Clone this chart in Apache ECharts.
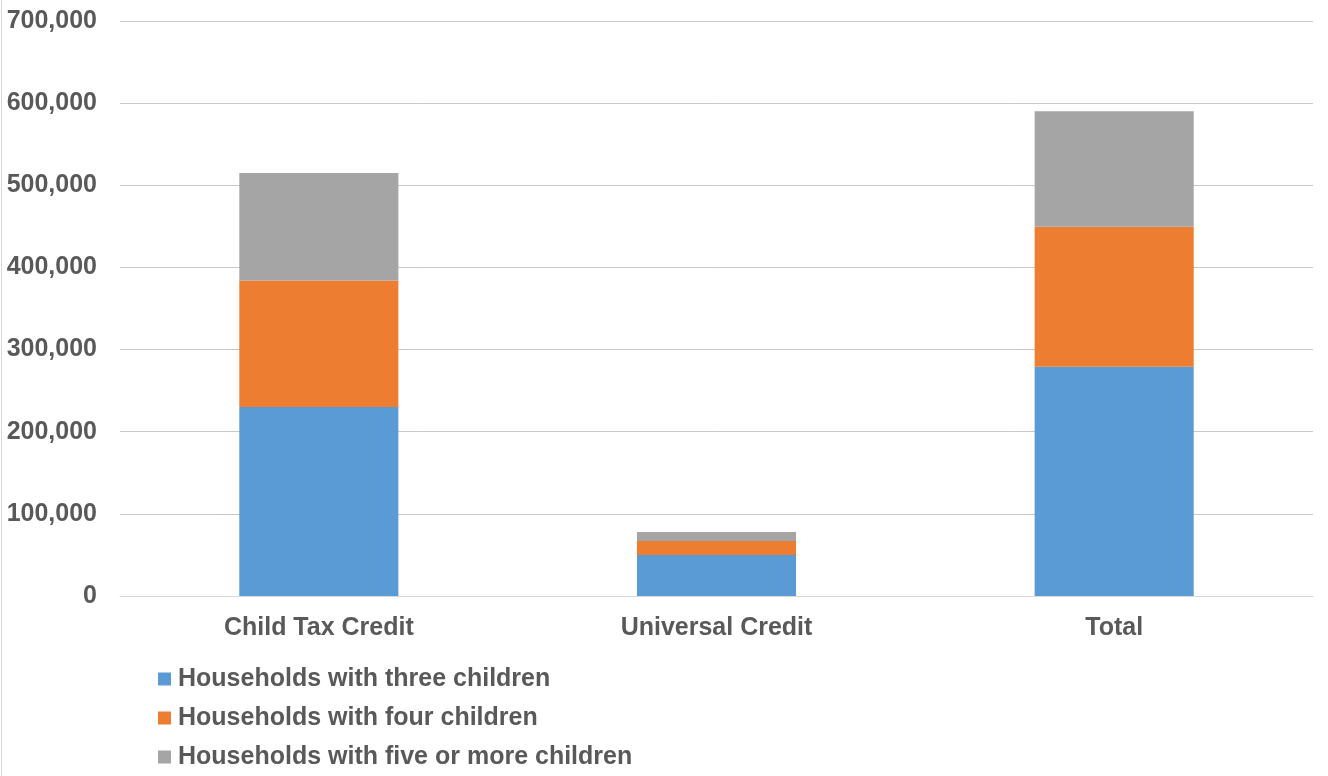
<!DOCTYPE html>
<html>
<head>
<meta charset="utf-8">
<script src="https://cdn.jsdelivr.net/npm/echarts@6/dist/echarts.min.js"></script>
<style>
html,body{margin:0;padding:0;background:#fff;}
#c{width:1328px;height:776px;}
</style>
</head>
<body>
<div id="c"></div>
<script>
const categories = ['Child Tax Credit', 'Universal Credit', 'Total'];
const threeChildren = [230000, 50000, 279000];
const fourChildren = [154000, 17000, 170500];
const fiveOrMore = [131000, 11000, 140500];
const seriesNames = ['Households with three children', 'Households with four children', 'Households with five or more children'];
const colors = ['#5B9BD5', '#ED7D31', '#A5A5A5'];

const font = '"Liberation Sans", Arial, sans-serif';
const chart = echarts.init(document.getElementById('c'), null, {renderer: 'canvas'});
const mk = (name, data, color) => ({
  name, type: 'bar', stack: 'a', data, barWidth: '40%',
  itemStyle: {color}, emphasis: {disabled: true}
});
chart.setOption({
  animation: false,
  color: colors,
  graphic: [{type: 'line', shape: {x1: 1.5, y1: 0, x2: 1.5, y2: 776}, style: {stroke: '#d9d9d9', lineWidth: 1}}],
  grid: {left: 120, right: 15, top: 21, bottom: 180, containLabel: false},
  legend: {
    orient: 'vertical', left: 158, top: 665, padding: 0, height: 111,
    itemWidth: 13, itemHeight: 13, itemGap: 11,
    icon: 'rect',
    textStyle: {fontFamily: font, fontSize: 25, fontWeight: 'bold', color: '#595959', lineHeight: 28, padding: [0, 0, 0, 2]},
    data: seriesNames
  },
  xAxis: {
    type: 'category', data: categories,
    axisLine: {lineStyle: {color: '#d9d9d9', width: 1}},
    axisTick: {show: false},
    axisLabel: {fontFamily: font, fontSize: 25, fontWeight: 'bold', color: '#595959', margin: 20}
  },
  yAxis: {
    type: 'value', min: 0, max: 700000, interval: 100000,
    axisLine: {show: false}, axisTick: {show: false},
    splitLine: {lineStyle: {color: '#c8c8c8', width: 1}},
    axisLabel: {fontFamily: font, fontSize: 25, fontWeight: 'bold', color: '#595959', margin: 23,
      padding: [8, 0, 0, 0],
      formatter: v => v.toLocaleString('en-US')}
  },
  series: [
    mk(seriesNames[0], threeChildren, colors[0]),
    mk(seriesNames[1], fourChildren, colors[1]),
    mk(seriesNames[2], fiveOrMore, colors[2])
  ]
});
</script>
</body>
</html>
